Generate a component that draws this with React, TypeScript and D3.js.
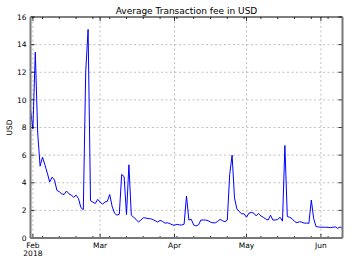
import React from "react";
import * as d3 from "d3";

const startDate = new Date(2018, 0, 31);
// daily average fee, Jan 31 .. Jun 10 2018
const feeValues: number[] = [
  9.3, 7.9, 13.45, 7.6, 5.2, 5.85, 5.3, 4.7, 4.06, 4.4, 4.2, 3.45, 3.35, 3.2, 3.15, 3.4, 3.2, 3.1, 2.95, 3.1, 2.85, 2.2, 2.05, 12.0, 15.1,
  2.7, 2.6, 2.5, 2.8, 2.6, 2.45, 2.6, 2.65, 3.15, 2.3, 1.8, 1.65, 1.72, 4.6, 4.45, 1.7, 5.3, 1.65,
  1.5, 1.35, 1.15, 1.3, 1.47, 1.45, 1.4, 1.4, 1.33, 1.25, 1.15, 1.28, 1.2, 1.08, 1.1, 1.05, 0.96,
  0.92, 0.99, 0.95, 0.94, 1.0, 3.04, 1.3, 1.35, 0.94, 0.87, 0.95, 1.3, 1.3, 1.3, 1.25, 1.15, 1.1, 1.1, 1.2, 1.35, 1.25, 1.18, 1.3, 4.6, 6.0, 2.9, 2.1, 1.9, 1.75, 1.75,
  1.5, 1.8, 1.85, 1.8, 1.6, 1.78, 1.6, 1.5, 1.38, 1.3, 1.65, 1.3, 1.3, 1.35, 1.5, 1.22, 6.7, 1.55, 1.5, 1.4, 1.2, 1.1, 1.18, 1.15, 1.08, 1.08, 1.06, 2.75, 1.4, 0.82, 0.8,
  0.78, 0.78, 0.78, 0.77, 0.75, 0.78, 0.8, 0.7, 0.8, 0.68,
];
const yTicks = [0, 2, 4, 6, 8, 10, 12, 14, 16];
const monthTicks = [new Date(2018, 1, 1), new Date(2018, 2, 1), new Date(2018, 3, 1), new Date(2018, 4, 1), new Date(2018, 5, 1)];
const monthLabels = ["Feb", "Mar", "Apr", "May", "Jun"];
const title = "Average Transaction fee in USD";
const yLabel = "USD";

export default function App() {
  const W = 352, H = 264;
  const L = 30.5, R = 342.5, T = 17, B = 238;
  const data = feeValues.map((v, i) => ({ d: d3.timeDay.offset(startDate, i), v }));
  const x = d3.scaleTime().domain([data[0].d, data[data.length - 1].d]).range([L, R]);
  const y = d3.scaleLinear().domain([0, 16]).range([B, T]);
  const line = d3.line<{ d: Date; v: number }>().x((p) => x(p.d)).y((p) => y(p.v));
  const minor = d3.timeMonday.range(data[0].d, data[data.length - 1].d);
  const font = "DejaVu Sans";
  return (
    <svg width={W} height={H} style={{ position: "absolute", left: 0, top: 0 }} fontFamily={font}>
      <rect x={0} y={0} width={W} height={H} fill="#fff" />
      {/* grid */}
      {yTicks.slice(1, -1).map((t) => (
        <line key={"gy" + t} x1={L} x2={R} y1={y(t)} y2={y(t)} stroke="#b0b0b0" strokeWidth={0.8} strokeDasharray="2,2.5" />
      ))}
      {monthTicks.map((t, i) => (
        <line key={"gx" + i} x1={x(t)} x2={x(t)} y1={T} y2={B} stroke="#b0b0b0" strokeWidth={0.8} strokeDasharray="2,2.5" />
      ))}
      <path d={line(data) || ""} fill="none" stroke="#0000ff" strokeWidth={1} strokeLinejoin="round" />
      {/* ticks */}
      {yTicks.map((t) => (
        <g key={"ty" + t}>
          <line x1={L} x2={L + 4} y1={y(t)} y2={y(t)} stroke="#000" strokeWidth={0.8} />
          <line x1={R - 4} x2={R} y1={y(t)} y2={y(t)} stroke="#000" strokeWidth={0.8} />
          <text x={L - 4} y={y(t)} dy="0.35em" textAnchor="end" fontSize={7.5} fill="#000">{t}</text>
        </g>
      ))}
      {minor.map((t, i) => (
        <g key={"mn" + i}>
          <line x1={x(t)} x2={x(t)} y1={B} y2={B - 2} stroke="#000" strokeWidth={0.8} />
          <line x1={x(t)} x2={x(t)} y1={T} y2={T + 2} stroke="#000" strokeWidth={0.8} />
        </g>
      ))}
      {monthTicks.map((t, i) => (
        <g key={"tx" + i}>
          <line x1={x(t)} x2={x(t)} y1={B} y2={B - 4} stroke="#000" strokeWidth={0.8} />
          <line x1={x(t)} x2={x(t)} y1={T} y2={T + 4} stroke="#000" strokeWidth={0.8} />
          <text x={x(t)} y={B + 10} textAnchor="middle" fontSize={7.5} fill="#000">{monthLabels[i]}</text>
        </g>
      ))}
      <text x={x(monthTicks[0])} y={B + 18} textAnchor="middle" fontSize={7.5} fill="#000">2018</text>
      {/* spines */}
      <line x1={L} x2={R} y1={T} y2={T} stroke="#000" strokeWidth={1} />
      <line x1={L} x2={R} y1={B} y2={B} stroke="#777" strokeWidth={1.8} />
      <line x1={L} x2={L} y1={T} y2={B} stroke="#777" strokeWidth={2} />
      <line x1={R} x2={R} y1={T} y2={B} stroke="#777" strokeWidth={2} />
      <text x={(L + R) / 2} y={14} textAnchor="middle" fontSize={9} fill="#000">{title}</text>
      <text transform={`translate(12,${(T + B) / 2}) rotate(-90)`} textAnchor="middle" fontSize={7.5} fill="#000">{yLabel}</text>
    </svg>
  );
}
